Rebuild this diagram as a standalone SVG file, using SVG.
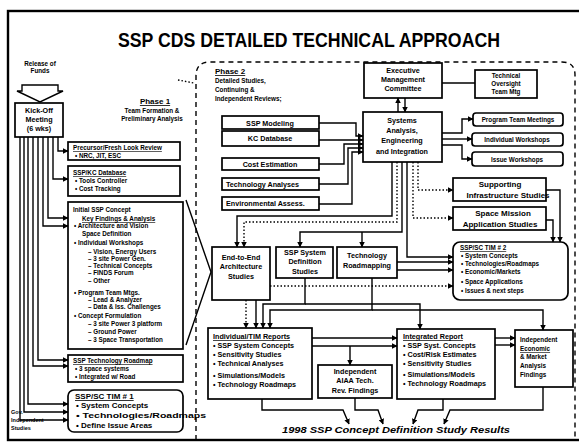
<svg xmlns="http://www.w3.org/2000/svg" width="579" height="443" viewBox="0 0 579 443">
<defs>
<marker id="ah" viewBox="0 0 10 10" refX="9" refY="5" markerWidth="4" markerHeight="4" orient="auto"><path d="M0,0 L10,5 L0,10 z" fill="#000"/></marker>
</defs>
<style>
text{font-family:"Liberation Sans",Arial,sans-serif;font-weight:bold;fill:#000}
.b{fill:#fff;stroke:#000;stroke-width:1.7}
.c{fill:none;stroke:#000;stroke-width:1.4}
.a{marker-end:url(#ah)}
.d{stroke-dasharray:1.5,2}
.m{text-anchor:middle}
.s6{font-size:6.3px}
.s7{font-size:7.2px}
.s8{font-size:8px}
.u{text-decoration:underline}
</style>
<rect x="0" y="0" width="579" height="443" fill="#fff"/>
<rect x="8" y="11" width="575" height="429" fill="none" stroke="#000" stroke-width="2.4"/>
<text x="309" y="47" class="m" font-size="20" textLength="382" lengthAdjust="spacingAndGlyphs">SSP CDS DETAILED TECHNICAL APPROACH</text>

<!-- Phase regions -->
<g id="phase2-region" fill="none" stroke="#000" stroke-width="1.4">
<path d="M196,440 V76 Q196,62 210,62 H562 Q575,62 575,75 V440" stroke-dasharray="5,4"/>
<path d="M178,80 L194,83" stroke-dasharray="1.5,2"/>
<path d="M186,200 L211,272 L186,345"/>
</g>

<!-- Phase 1 -->
<g id="release">
<text x="40" y="66" class="m s6">Release of</text>
<text x="40" y="73" class="m s6">Funds</text>
<path d="M22,85 H58 V91 H63 L40,102 L17,91 H22 Z" fill="#fff" stroke="#000" stroke-width="1.4"/>
</g>
<g id="kickoff">
<rect x="15" y="103" width="48" height="34" class="b"/>
<text x="39" y="113" class="m s7">Kick-Off</text>
<text x="39" y="122" class="m s7">Meeting</text>
<text x="39" y="131" class="m s7">(6 wks)</text>
</g>
<g id="phase1-label">
<text x="155" y="104" class="m s8 u">Phase 1</text>
<text x="152" y="113" class="m s6">Team Formation &amp;</text>
<text x="152" y="121" class="m s6">Preliminary Analysis</text>
</g>
<g id="p1-review">
<rect x="68" y="142" width="112" height="18" class="b"/>
<text x="73" y="150" class="s6 u">Precursor/Fresh Look Review</text>
<text x="75" y="158" class="s6">• NRC, JIT, ESC</text>
</g>
<g id="p1-database">
<rect x="68" y="166" width="112" height="30" class="b"/>
<text x="73" y="175" class="s6 u">SSP/KC Database</text>
<text x="75" y="183" class="s6">• Tools Controller</text>
<text x="75" y="191" class="s6">• Cost Tracking</text>
</g>
<g id="p1-concept">
<rect x="68" y="202" width="115" height="147" class="b"/>
<text x="73" y="212" class="s6">Initial SSP Concept</text>
<text x="82" y="221" class="s6 u">Key Findings &amp; Analysis</text>
<text x="74" y="228" class="s6">• Architecture and Vision</text>
<text x="82" y="236" class="s6">Space Definition</text>
<text x="74" y="245" class="s6">• Individual Workshops</text>
<text x="88" y="254" class="s6">– Vision, Energy Users</text>
<text x="88" y="261" class="s6">– 3 site Power Gen.</text>
<text x="88" y="268" class="s6">– Technical Concepts</text>
<text x="88" y="275" class="s6">– FINDS Forum</text>
<text x="88" y="283" class="s6">– Other</text>
<text x="74" y="295" class="s6">• Program Team Mtgs.</text>
<text x="88" y="302" class="s6">– Lead &amp; Analyzer</text>
<text x="88" y="309" class="s6">– Data &amp; Iss. Challenges</text>
<text x="74" y="318" class="s6">• Concept Formulation</text>
<text x="88" y="326" class="s6">– 3 site Power 3 platform</text>
<text x="88" y="334" class="s6">– Ground Power</text>
<text x="88" y="342" class="s6">– 3 Space Transportation</text>
</g>
<g id="p1-roadmap">
<rect x="68" y="355" width="115" height="27" class="b"/>
<text x="73" y="363" class="s6 u">SSP Technology Roadmap</text>
<text x="75" y="371" class="s6">• 3 space systems</text>
<text x="75" y="379" class="s6">• Integrated w/ Road</text>
</g>
<g id="p1-tim1">
<rect x="68" y="390" width="115" height="42" rx="6" class="b"/>
<text x="75" y="399" class="s8 u">SSP/SC TIM # 1</text>
<text x="76" y="408" class="s8">• System Concepts</text>
<text x="76" y="418" class="s8" textLength="130" lengthAdjust="spacingAndGlyphs">• Technologies/Roadmaps</text>
<text x="76" y="428" class="s8">• Define Issue Areas</text>
</g>
<g id="gov-studies">
<text x="11" y="414" font-size="5.5">Gov.</text>
<text x="11" y="422" font-size="5.5">Independent</text>
<text x="11" y="430" font-size="5.5">Studies</text>
</g>

<!-- Phase 2 -->
<g id="phase2-label">
<text x="215" y="74" class="s8 u">Phase 2</text>
<text x="215" y="83" class="s6">Detailed Studies,</text>
<text x="215" y="92" class="s6">Continuing &amp;</text>
<text x="215" y="101" class="s6">Independent Reviews;</text>
</g>
<g id="ssp-modeling">
<rect x="222" y="116" width="97" height="13" class="b"/>
<text x="270" y="126" class="m s7">SSP Modeling</text>
</g>
<g id="kc-database">
<rect x="222" y="131" width="97" height="15" class="b"/>
<text x="270" y="141" class="m s7">KC Database</text>
</g>
<g id="cost-estimation">
<rect x="222" y="158" width="97" height="12" class="b"/>
<text x="270" y="167" class="m s7">Cost Estimation</text>
</g>
<g id="tech-analyses">
<rect x="222" y="178" width="97" height="12" class="b"/>
<text x="226" y="187" class="s7">Technology Analyses</text>
</g>
<g id="env-assess">
<rect x="222" y="197" width="97" height="13" class="b"/>
<text x="226" y="206" class="s7">Environmental Assess.</text>
</g>
<g id="exec-committee">
<rect x="364" y="63" width="78" height="35" class="b"/>
<text x="403" y="73" class="m s7">Executive</text>
<text x="403" y="82" class="m s7">Management</text>
<text x="403" y="91" class="m s7">Committee</text>
</g>
<g id="oversight">
<rect x="475" y="70" width="62" height="28" class="b"/>
<text x="506" y="78" class="m s6">Technical</text>
<text x="506" y="86" class="m s6">Oversight</text>
<text x="506" y="94" class="m s6">Team Mtg</text>
</g>
<g id="systems">
<rect x="363" y="112" width="79" height="50" class="b"/>
<text x="402" y="123" class="m s7">Systems</text>
<text x="402" y="133" class="m s7">Analysis,</text>
<text x="402" y="143" class="m s7">Engineering</text>
<text x="402" y="154" class="m s7">and Integration</text>
</g>
<g id="program-team">
<rect x="473" y="113" width="90" height="13" rx="3" class="b"/>
<text x="518" y="122" class="m s6">Program Team Meetings</text>
</g>
<g id="individual-ws">
<rect x="472" y="133" width="91" height="13" rx="3" class="b"/>
<text x="517" y="142" class="m s6">Individual Workshops</text>
</g>
<g id="issue-ws">
<rect x="472" y="152" width="91" height="14" rx="3" class="b"/>
<text x="517" y="162" class="m s6">Issue Workshops</text>
</g>
<g id="supporting">
<rect x="453" y="178" width="93" height="23" class="b"/>
<text x="500" y="187" class="m s8">Supporting</text>
<text x="508" y="198" class="m s8">Infrastructure Studies</text>
</g>
<g id="space-mission">
<rect x="453" y="207" width="93" height="23" class="b"/>
<text x="503" y="216" class="m s8">Space Mission</text>
<text x="500" y="227" class="m s8">Application Studies</text>
</g>
<g id="tim2">
<rect x="453" y="242" width="115" height="58" rx="7" class="b"/>
<text x="460" y="250" class="s6 u">SSP/SC TIM # 2</text>
<text x="461" y="258" class="s6">• System Concepts</text>
<text x="461" y="266" class="s6">• Technologies/Roadmaps</text>
<text x="461" y="274" class="s6">• Economic/Markets</text>
<text x="461" y="284" class="s6">• Space Applications</text>
<text x="461" y="293" class="s6">• Issues &amp; next steps</text>
</g>
<g id="end-to-end">
<rect x="212" y="247" width="58" height="53" class="b"/>
<text x="241" y="260" class="m s7">End-to-End</text>
<text x="241" y="269" class="m s7">Architecture</text>
<text x="241" y="279" class="m s7">Studies</text>
</g>
<g id="ssp-definition">
<rect x="276" y="247" width="57" height="31" class="b"/>
<text x="305" y="255" class="m s7">SSP System</text>
<text x="305" y="264" class="m s7">Definition</text>
<text x="305" y="274" class="m s7">Studies</text>
</g>
<g id="tech-roadmapping">
<rect x="337" y="247" width="60" height="31" class="b"/>
<text x="367" y="258" class="m s7">Technology</text>
<text x="367" y="268" class="m s7">Roadmapping</text>
</g>
<g id="individual-reports">
<rect x="208" y="328" width="104" height="71" class="b"/>
<text x="213" y="339" class="s7 u">Individual/TIM Reports</text>
<text x="213" y="348" class="s7">• SSP System Concepts</text>
<text x="213" y="357" class="s7">• Sensitivity Studies</text>
<text x="213" y="366" class="s7">• Technical Analyses</text>
<text x="213" y="378" class="s7">• Simulations/Models</text>
<text x="213" y="387" class="s7">• Technology Roadmaps</text>
</g>
<g id="aiaa">
<rect x="318" y="365" width="74" height="33" class="b"/>
<text x="355" y="374" class="m s7">Independent</text>
<text x="355" y="383" class="m s7">AIAA Tech.</text>
<text x="355" y="393" class="m s7">Rev. Findings</text>
</g>
<g id="integrated-report">
<rect x="397" y="329" width="98" height="70" class="b"/>
<text x="403" y="339" class="s7 u">Integrated Report</text>
<text x="403" y="348" class="s7">• SSP Syst. Concepts</text>
<text x="403" y="357" class="s7">• Cost/Risk Estimates</text>
<text x="403" y="366" class="s7">• Sensitivity Studies</text>
<text x="403" y="377" class="s7">• Simulations/Models</text>
<text x="403" y="386" class="s7">• Technology Roadmaps</text>
</g>
<g id="independent-economic">
<rect x="515" y="330" width="58" height="57" class="b"/>
<text x="520" y="342" class="s6">Independent</text>
<text x="520" y="351" class="s6 u">Economic</text>
<text x="520" y="359" class="s6">&amp; Market</text>
<text x="520" y="368" class="s6">Analysis</text>
<text x="520" y="377" class="s6">Findings</text>
</g>
<g id="result-label">
<text x="396" y="433" class="m" font-size="9" font-style="italic" textLength="228" lengthAdjust="spacingAndGlyphs">1998 SSP Concept Definition Study Results</text>
</g>

<!-- Connectors -->
<g id="connectors">
<path class="c a" d="M20,137 V420 H68"/>
<path class="c a" d="M24,137 V412 H68"/>
<path class="c a" d="M28,137 V404 H68"/>
<path class="c a" d="M33,137 V366 H68"/>
<path class="c a" d="M38,137 V360 H68"/>
<path class="c a" d="M43,137 V226 H68"/>
<path class="c a" d="M48,137 V218 H68"/>
<path class="c a" d="M53,137 V179 H68"/>
<path class="c a" d="M58,137 V151 H68"/>

<path class="c a" d="M319,123 H356 V136 H363"/>
<path class="c a" d="M319,140 H363"/>
<path class="c a" d="M319,164 H344 V144 H363"/>
<path class="c a" d="M319,184 H348 V148 H363"/>
<path class="c a" d="M319,204 H352 V152 H363"/>

<path class="c a" d="M398,112 V98"/>
<path class="c a" d="M405,98 V112"/>
<path class="c" d="M442,83 H475"/>
<path class="c a" d="M442,133 H462 V119 H473"/>
<path class="c a" d="M442,139 H472"/>
<path class="c a" d="M442,145 H462 V159 H472"/>

<path class="c a d" d="M418,162 V190 H453"/>
<path class="c a d" d="M413,162 V218 H453"/>
<path class="c a" d="M407,162 V257 H453"/>
<path class="c a" d="M392,162 V216 H237 V247"/>
<path class="c a d" d="M397,162 V222 H244 V247"/>
<path class="c a" d="M402,162 V232 H300 V247"/>
<path class="c a" d="M362,232 V247"/>

<path class="c a" d="M546,190 H560 V242"/>
<path class="c a" d="M546,220 H553 V242"/>
<path class="c a" d="M397,262 H453"/>
<path class="c a" d="M397,270 H453"/>
<path class="c a d" d="M270,286 H453"/>

<path class="c a d" d="M246,300 V328"/>
<path class="c a" d="M256,300 V328"/>
<path class="c a" d="M305,278 V304 H263 V328"/>
<path class="c a" d="M305,304 H420 V329"/>
<path class="c a" d="M372,278 V310 H270 V328"/>
<path class="c a" d="M372,310 H543 V330"/>

<path class="c a" d="M312,338 H397"/>
<path class="c a" d="M312,346 H397"/>
<path class="c a" d="M350,346 V365"/>
<path class="c a" d="M495,338 H515"/>
<path class="c a" d="M495,345 H515"/>

<path class="c a" d="M262,399 V410 H343 L349,424"/>
<path class="c a" d="M355,398 V410 H378 L383,424"/>
<path class="c a" d="M443,399 V410 H418 L413,424"/>
<path class="c a" d="M543,387 V410 H450 L444,424"/>
</g>
</svg>
